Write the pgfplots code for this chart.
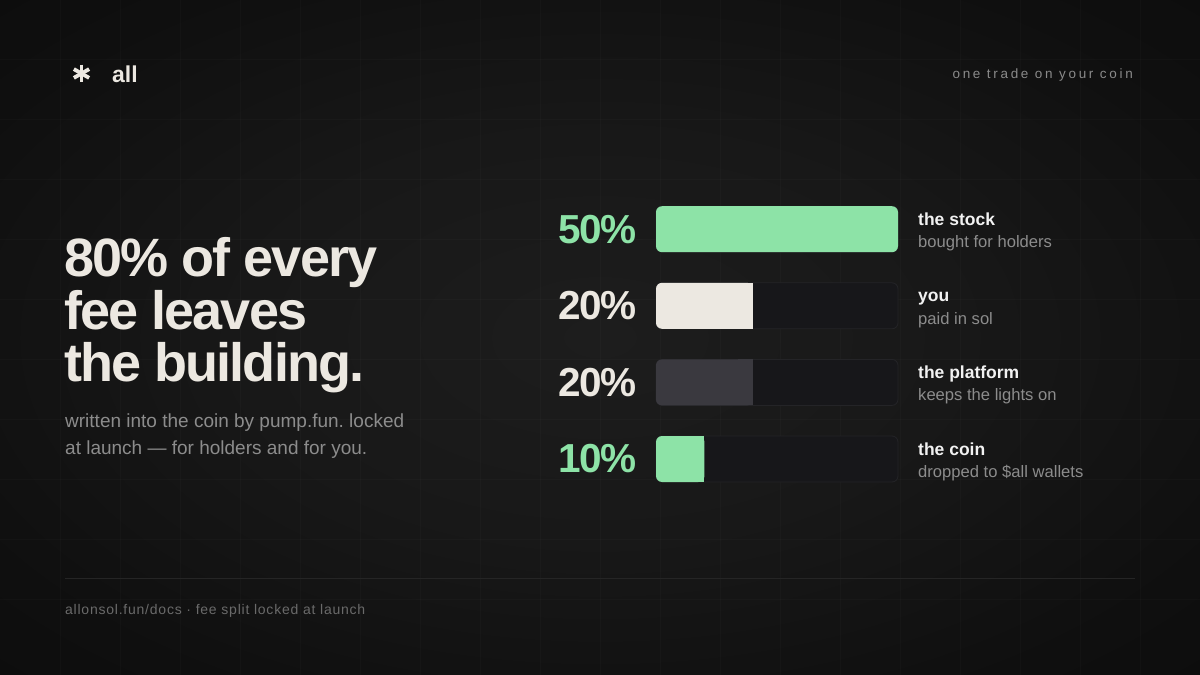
\documentclass[border=0pt]{standalone}
\usepackage{pgfplots}
\pgfplotsset{compat=1.18}
\usepackage{fontspec}
\setmainfont{Liberation Sans}
\newfontfamily\tightfont{Liberation Sans}[LetterSpace=-3.5]
\newfontfamily\widefont{Liberation Sans}[LetterSpace=20]
\newfontfamily\footfont{Liberation Sans}[LetterSpace=5.5]
\frenchspacing

\definecolor{bgC}{HTML}{1D1D1D}
\definecolor{bgM}{HTML}{181818}
\definecolor{bgE}{HTML}{0F0F0F}
\definecolor{bgK}{HTML}{0A0A0A}
\definecolor{bgZ}{HTML}{080808}
\definecolor{cream}{HTML}{ECE8E1}
\definecolor{mint}{HTML}{8DE3A7}
\definecolor{slate}{HTML}{3A393F}
\definecolor{track}{HTML}{17171A}
\definecolor{trackline}{HTML}{242427}
\definecolor{subgrey}{HTML}{8C8C8C}
\definecolor{labwhite}{HTML}{F2F2F2}
\definecolor{topgrey}{HTML}{8A8A8A}
\definecolor{footgrey}{HTML}{6A6A6A}
\definecolor{rule}{HTML}{252525}

\pgfdeclareradialshading{bgshade}{\pgfpoint{0bp}{0bp}}{color(0bp)=(bgC); color(15bp)=(bgM); color(30bp)=(bgE); color(45bp)=(bgK); color(72bp)=(bgZ)}

\begin{document}
\begin{tikzpicture}
\useasboundingbox (0pt,0pt) rectangle (1200pt,675pt);
\shade[shading=bgshade] (0pt,0pt) rectangle (1200pt,675pt);
% faint grid
\foreach \gx in {60,120,...,1140} \draw[white, opacity=0.018, line width=1pt] (\gx pt,0pt) -- (\gx pt,675pt);
\foreach \gy in {75,135,...,615} \draw[white, opacity=0.018, line width=1pt] (0pt,\gy pt) -- (1200pt,\gy pt);

% logo
\begin{scope}[shift={(81.5pt,601.5pt)}]
  \foreach \a in {90,30,150} \draw[cream, line width=3.8pt] (\a:8.8pt) -- (\a+180:8.8pt);
\end{scope}
\node[anchor=base west, inner sep=0pt, text=cream, font=\fontsize{23}{23}\selectfont\bfseries] at (112pt,592pt) {all};

% top right
\node[anchor=base east, inner sep=0pt, text=topgrey, font=\widefont\fontsize{13.5}{14}\selectfont] at (1133pt,596pt) {one trade on your coin};

% heading
\begin{scope}[every node/.style={anchor=base west, inner sep=0pt, text=cream, font=\tightfont\fontsize{54}{54}\selectfont\bfseries}]
\node at (64pt,398pt) {80\% of every};
\node at (64pt,345pt) {fee leaves};
\node at (64pt,293pt) {the building.};
\end{scope}
\begin{scope}[every node/.style={anchor=base west, inner sep=0pt, text=subgrey, font=\fontsize{19}{20}\selectfont}]
\node at (65pt,247.3pt) {written into the coin by pump.fun. locked};
\node at (65pt,220pt) {at launch — for holders and for you.};
\end{scope}

% footer
\draw[rule, line width=1pt] (65pt,96pt) -- (1135pt,96pt);
\node[anchor=base west, inner sep=0pt, text=footgrey, font=\footfont\fontsize{14}{14}\selectfont] at (65pt,60.5pt) {allonsol.fun/docs · fee split locked at launch};

% chart
\begin{axis}[
  at={(656pt,177.7pt)}, anchor=south west,
  scale only axis, width=242pt, height=306.4pt,
  xmin=0, xmax=50, ymin=0.5, ymax=4.5, y dir=reverse,
  hide axis, clip=false,
]
% tracks (full 50% scale)
\addplot[xbar, bar width=46pt, bar shift=0pt, fill=track, draw=trackline, line width=0.8pt, rounded corners=6pt]
  coordinates {(50,1) (50,2) (50,3) (50,4)};
% fills
\addplot[xbar, bar width=46pt, bar shift=0pt, fill=mint, draw=none, rounded corners=6pt] coordinates {(50,1)};
\addplot[xbar, bar width=46pt, bar shift=0pt, fill=cream, draw=none, rounded corners=6pt] coordinates {(20,2)};
\addplot[xbar, bar width=46pt, bar shift=0pt, fill=slate, draw=none, rounded corners=6pt] coordinates {(20,3)};
\addplot[xbar, bar width=46pt, bar shift=0pt, fill=mint, draw=none, rounded corners=6pt] coordinates {(10,4)};
% square right ends of partial fills
\addplot[fill=cream, draw=none] coordinates {(17,1.7) (20,1.7) (20,2.3) (17,2.3)} -- cycle;
\addplot[fill=slate, draw=none] coordinates {(17,2.7) (20,2.7) (20,3.3) (17,3.3)} -- cycle;
\addplot[fill=mint, draw=none] coordinates {(7,3.7) (10,3.7) (10,4.3) (7,4.3)} -- cycle;

% percentages
\begin{scope}[every node/.style={anchor=east, inner sep=0pt, xshift=-19pt, font=\tightfont\fontsize{40.5}{41}\selectfont\bfseries}]
\node[text=mint] at (axis cs:0,1) {50\%};
\node[text=cream] at (axis cs:0,2) {20\%};
\node[text=cream] at (axis cs:0,3) {20\%};
\node[text=mint] at (axis cs:0,4) {10\%};
\end{scope}
% labels
\begin{scope}[every node/.style={anchor=base west, inner sep=0pt, xshift=20pt}]
\node[text=labwhite, yshift=4pt, font=\fontsize{17.5}{18}\selectfont\bfseries] at (axis cs:50,1) {the stock};
\node[text=subgrey, yshift=-18.5pt, font=\fontsize{16.6}{17}\selectfont] at (axis cs:50,1) {bought for holders};
\node[text=labwhite, yshift=4pt, font=\fontsize{17.5}{18}\selectfont\bfseries] at (axis cs:50,2) {you};
\node[text=subgrey, yshift=-18.5pt, font=\fontsize{16.6}{17}\selectfont] at (axis cs:50,2) {paid in sol};
\node[text=labwhite, yshift=4pt, font=\fontsize{17.5}{18}\selectfont\bfseries] at (axis cs:50,3) {the platform};
\node[text=subgrey, yshift=-18.5pt, font=\fontsize{16.6}{17}\selectfont] at (axis cs:50,3) {keeps the lights on};
\node[text=labwhite, yshift=4pt, font=\fontsize{17.5}{18}\selectfont\bfseries] at (axis cs:50,4) {the coin};
\node[text=subgrey, yshift=-18.5pt, font=\fontsize{16.6}{17}\selectfont] at (axis cs:50,4) {dropped to \$all wallets};
\end{scope}
\end{axis}
\end{tikzpicture}
\end{document}
